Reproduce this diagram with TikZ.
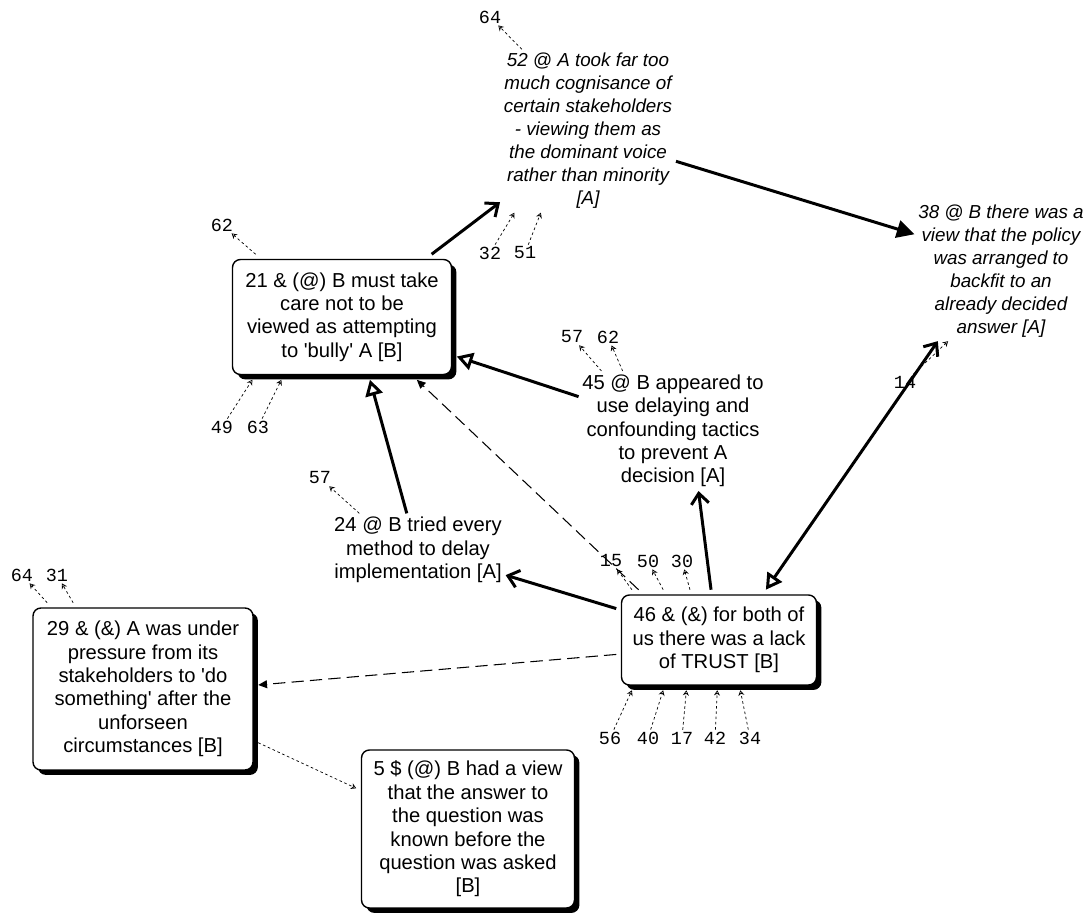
\documentclass[tikz,border=0pt]{standalone}
\usepackage{fontspec}
\setmainfont{Liberation Sans}
\newfontfamily\refnumfont{Liberation Mono}
\usetikzlibrary{arrows.meta,shadows}

\begin{document}
\begin{tikzpicture}[
    x=0.02cm, y=-0.02cm,
    concept box/.style={draw,rounded corners=4.5pt,line width=0.8pt,fill=white,align=center,outer sep=3pt,
        font=\fontsize{11.5}{13.3}\selectfont,
        drop shadow={shadow xshift=2.8pt,shadow yshift=-2.8pt,fill=black,opacity=1}},
    concept text/.style={align=center,inner sep=2pt,font=\fontsize{11.5}{13.3}\selectfont},
    view text/.style={align=center,inner sep=2pt,font=\fontsize{10.7}{13.1}\selectfont\itshape},
    ref num/.style={inner sep=1pt,font=\refnumfont\fontsize{10.5}{12}\selectfont},
    main link/.style={line width=1.7pt},
    barb/.style={-{Straight Barb[length=6pt,width=10pt]}},
    dash link/.style={line width=0.6pt,dash pattern=on 7pt off 3.5pt,-{Triangle[length=5pt,width=4.5pt]}},
    ref link/.style={line width=0.4pt,dash pattern=on 1.5pt off 1.5pt,-{Stealth[open,length=3pt,width=3.5pt]}}
]
\useasboundingbox (0,0) rectangle (1090,916);

% Concepts
\node[concept box, minimum width=4.38cm, minimum height=2.3cm] (bully) at (342,317)
    {21 \& (@) B must take\\care not to be\\viewed as attempting\\to \textquotesingle bully\textquotesingle{} A [B]};
\node[view text] (cognisance) at (588,131)
    {52 @ A took far too\\much cognisance of\\certain stakeholders\\- viewing them as\\the dominant voice\\rather than minority\\{}[A]};
\node[view text] (backfit) at (1001,271)
    {38 @ B there was a\\view that the policy\\was arranged to\\backfit to an\\already decided\\answer [A]};
\node[concept text] (delaying) at (673,431)
    {45 @ B appeared to\\use delaying and\\confounding tactics\\to prevent A\\decision [A]};
\node[concept text] (tried) at (418,550)
    {24 @ B tried every\\method to delay\\implementation [A]};
\node[concept box, minimum width=3.9cm, minimum height=1.8cm] (trust) at (719,640)
    {46 \& (\&) for both of\\us there was a lack\\of TRUST [B]};
\node[concept box, minimum width=4.4cm, minimum height=3.24cm] (pressure) at (143,689)
    {29 \& (\&) A was under\\pressure from its\\stakeholders to \textquotesingle do\\something\textquotesingle{} after the\\unforseen\\circumstances [B]};
\node[concept box, minimum width=4.26cm, minimum height=3.16cm] (known) at (468,829)
    {5 \$ (@) B had a view\\that the answer to\\the question was\\known before the\\question was asked\\{}[B]};

% Reference numbers
\node[ref num] (ref64a) at (490,17) {64};
\node[ref num] (ref32) at (490,253) {32};
\node[ref num] (ref51) at (525,253) {51};
\node[ref num] (ref62a) at (222,225) {62};
\node[ref num] (ref49) at (222,427) {49};
\node[ref num] (ref63) at (258,427) {63};
\node[ref num] (ref57a) at (572,337) {57};
\node[ref num] (ref62b) at (608,337) {62};
\node[ref num] (ref57b) at (320,478) {57};
\node[ref num] (ref64b) at (22,575) {64};
\node[ref num] (ref31) at (57,575) {31};
\node[ref num] (ref14) at (905,382) {14};
\node[ref num] (ref15) at (611,561) {15};
\node[ref num] (ref50) at (648,561) {50};
\node[ref num] (ref30) at (682,561) {30};
\node[ref num] (ref56) at (610,738) {56};
\node[ref num] (ref40) at (648,738) {40};
\node[ref num] (ref17) at (682,738) {17};
\node[ref num] (ref42) at (715,738) {42};
\node[ref num] (ref34) at (750,738) {34};

% Links
\draw[main link, barb] (bully.35) -- (cognisance.219);
\draw[main link, -{Triangle[length=10pt,width=10pt]}] (cognisance.-19) -- (backfit.157);
\draw[main link, {Triangle[open,length=9pt,width=10pt,fill=white]}-{Straight Barb[length=6pt,width=10pt]}] (trust.47) -- (backfit.228);
\draw[main link, -{Triangle[open,length=9pt,width=10pt,fill=white]}] (delaying.160) -- (bully.-19);
\draw[main link, -{Triangle[open,length=9pt,width=10pt,fill=white]}] (tried.107) -- (bully.-66);
\draw[main link, barb] (trust.99) -- (delaying.-67);
\draw[main link, barb] (trust.163) -- (tried.-16);

% Dashed links
\draw[dash link] (trust.148) -- (bully.-40);
\draw[dash link] (trust.188) -- (pressure.2);
\draw[ref link] (pressure.-25) -- (known.160);

% Links to concepts not shown
\draw[ref link] (cognisance.129) -- (ref64a);
\draw[ref link] (ref32) -- (cognisance.228);
\draw[ref link] (ref51) -- (cognisance.240);
\draw[ref link] (bully.144) -- (ref62a);
\draw[ref link] (ref49) -- (bully.215);
\draw[ref link] (ref63) -- (bully.226);
\draw[ref link] (delaying.140) -- (ref57a);
\draw[ref link] (delaying.130) -- (ref62b);
\draw[ref link] (tried.148) -- (ref57b);
\draw[ref link] (pressure.138) -- (ref64b);
\draw[ref link] (pressure.129) -- (ref31);
\draw[ref link] (ref14) -- (backfit.233);
\draw[ref link] (trust.150) -- (ref15);
\draw[ref link] (trust.138) -- (ref50);
\draw[ref link] (trust.120) -- (ref30);
\draw[ref link] (ref56) -- (trust.210);
\draw[ref link] (ref40) -- (trust.222);
\draw[ref link] (ref17) -- (trust.237);
\draw[ref link] (ref42) -- (trust.268);
\draw[ref link] (ref34) -- (trust.293);

\end{tikzpicture}
\end{document}
